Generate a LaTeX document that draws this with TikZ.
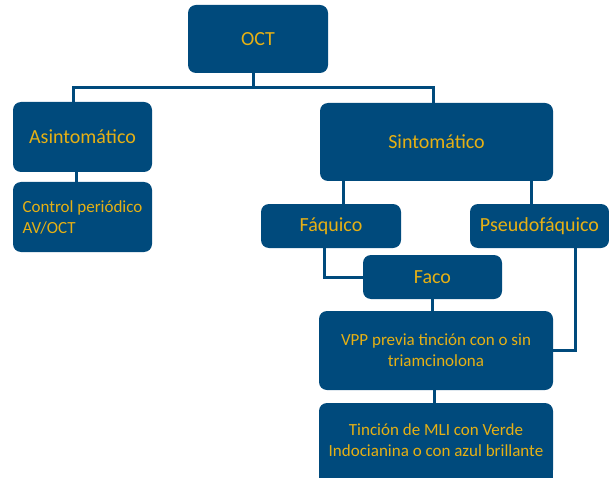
\documentclass[tikz,border=0pt]{standalone}
\usepackage{fontspec}
\setmainfont{Carlito}
\usetikzlibrary{backgrounds}

\definecolor{boxblue}{RGB}{0,74,124}
\definecolor{textgold}{RGB}{230,176,20}

\tikzset{
  box/.style={fill=boxblue, text=textgold, rounded corners=8pt, align=center,
    inner sep=0pt, font=\fontsize{20}{24}\selectfont},
  smallbox/.style={box, font=\fontsize{17}{21}\selectfont},
  link/.style={draw=boxblue, line width=3pt}
}

\begin{document}
\begin{tikzpicture}[x=1pt, y=-1pt]
    \useasboundingbox (0,0) rectangle (609,478);

    % boxes
    \node[box, minimum width=140, minimum height=68] (oct) at (258,39) {OCT};
    \node[box, minimum width=139, minimum height=70] (asin) at (82.5,137) {Asintomático};
    \node[smallbox, align=left, minimum width=139, minimum height=70] (control) at (82.5,217) {Control periódico\\AV/OCT};
    \node[box, minimum width=233, minimum height=78] (sint) at (436.5,142) {Sintomático};
    \node[box, minimum width=140, minimum height=44] (faq) at (331,226) {Fáquico};
    \node[box, minimum width=139, minimum height=44] (pseudo) at (539.5,226) {Pseudofáquico};
    \node[box, minimum width=139, minimum height=44] (faco) at (432.5,277) {Faco};
    \node[smallbox, minimum width=234, minimum height=79] (vpp) at (436,350.5) {VPP previa tinción con o sin\\triamcinolona};
    \node[smallbox, minimum width=234, minimum height=75] (tincion) at (436,440.5) {Tinción de MLI con Verde\\Indocianina o con azul brillante};

    % last box runs off the bottom edge
    \begin{scope}[on background layer]
        \fill[boxblue] (tincion.west) rectangle (tincion.south east);
    \end{scope}

    % connectors
    \coordinate (hub) at (253,88);
    \draw[link] (oct.south -| hub) -- (hub);
    \draw[link] ([xshift=-9pt]asin.north) |- (hub) -| ([xshift=-3pt]sint.north);
    \draw[link] ([xshift=-6pt]asin.south) -- ([xshift=-6pt]control.north);
    \draw[link] ([xshift=12pt]faq.north) -- ([xshift=12pt]faq.north |- sint.south);
    \draw[link] ([xshift=-8pt]pseudo.north) -- ([xshift=-8pt]pseudo.north |- sint.south);
    \draw[link] ([xshift=-7pt]faq.south) |- (faco.west);
    \draw[link] (faco.south) -- (faco.south |- vpp.north);
    \draw[link] ([xshift=36pt]pseudo.south) |- (vpp.east);
    \draw[link] ([xshift=-2pt]vpp.south) -- ([xshift=-2pt]tincion.north);
\end{tikzpicture}
\end{document}
